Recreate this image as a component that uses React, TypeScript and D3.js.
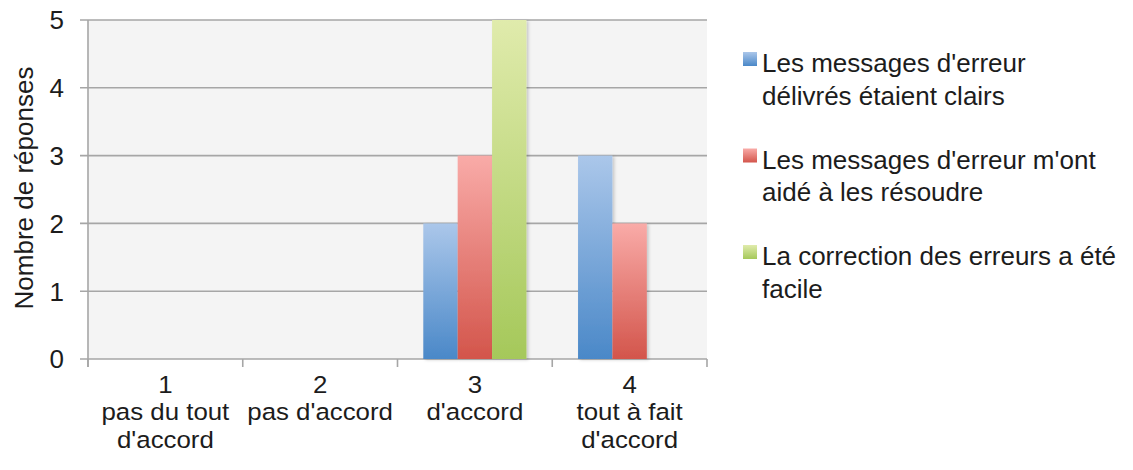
import React from "react";
import * as d3 from "d3";

const categoryNumbers = ["1", "2", "3", "4"];
const categoryLabels = [["pas du tout", "d'accord"], ["pas d'accord"], ["d'accord"], ["tout à fait", "d'accord"]];
const seriesNames = [
  ["Les messages d'erreur", "délivrés étaient clairs"],
  ["Les messages d'erreur m'ont", "aidé à les résoudre"],
  ["La correction des erreurs a été", "facile"],
];
const seriesClairs = [0, 0, 2, 3];
const seriesAide = [0, 0, 3, 2];
const seriesFacile = [0, 0, 5, 0];
const yTicks = [0, 1, 2, 3, 4, 5];
const yTitle = "Nombre de réponses";

const seriesValues = [seriesClairs, seriesAide, seriesFacile];
const gradients = [
  ["#abc7ea", "#4a88c8"],
  ["#f9aba8", "#d3554b"],
  ["#e0ebac", "#a5c85a"],
];

const W = 1133;
const H = 470;
const left = 88;
const right = 707;
const top = 20;
const bottom = 359;
const FONT = "'Liberation Sans', Arial, Helvetica, sans-serif";
const TEXT = "#1c1c1c";
const GRID = "#a6a6a6";

export default function App() {
  const x = d3.scaleBand<string>().domain(categoryNumbers).range([left, right]).paddingInner(0).paddingOuter(0);
  const inner = d3
    .scaleBand<number>()
    .domain([0, 1, 2])
    .range([0, x.bandwidth()])
    .paddingOuter(0.75)
    .paddingInner(0);
  const y = d3.scaleLinear().domain([0, 5]).range([bottom, top]);

  const boundaries = [...categoryNumbers.map((c) => x(c) as number), right];

  return (
    <svg width={W} height={H} style={{ position: "absolute", left: 0, top: 0 }} fontFamily={FONT}>
      <defs>
        {gradients.map((g, i) => (
          <linearGradient key={i} id={`grad${i}`} x1="0" y1="0" x2="0" y2="1">
            <stop offset="0" stopColor={g[0]} />
            <stop offset="1" stopColor={g[1]} />
          </linearGradient>
        ))}
        <filter id="shadow" x="-20%" y="-5%" width="150%" height="115%">
          <feDropShadow dx="2" dy="1" stdDeviation="1.5" floodColor="#000" floodOpacity="0.18" />
        </filter>
      </defs>
      <rect x={0} y={0} width={W} height={H} fill="#ffffff" />
      <rect x={left} y={top} width={right - left} height={bottom - top} fill="#f4f4f4" />
      {yTicks.map((t) => (
        <line key={t} x1={left - 8} x2={right} y1={y(t)} y2={y(t)} stroke={GRID} strokeWidth={1.6} />
      ))}
      <line x1={left} x2={left} y1={top} y2={bottom + 8} stroke={GRID} strokeWidth={1.6} />
      {boundaries.map((b, i) => (
        <line key={i} x1={b} x2={b} y1={bottom} y2={bottom + 8} stroke={GRID} strokeWidth={1.6} />
      ))}
      {categoryNumbers.map((c, ci) =>
        seriesValues.map((vals, si) => {
          const v = vals[ci];
          if (!v) return null;
          const bx = (x(c) as number) + (inner(si) as number);
          return (
            <rect
              key={`${ci}-${si}`}
              x={bx}
              y={y(v)}
              width={inner.bandwidth()}
              height={y(0) - y(v)}
              fill={`url(#grad${si})`}
              filter="url(#shadow)"
            />
          );
        })
      )}
      {yTicks.map((t) => (
        <text key={t} x={64} y={y(t)} dy="0.36em" textAnchor="end" fontSize={26} fill={TEXT}>
          {t}
        </text>
      ))}
      <text
        transform={`translate(33,188) rotate(-90)`}
        textAnchor="middle"
        fontSize={26}
        fill={TEXT}
      >
        {yTitle}
      </text>
      {categoryNumbers.map((c, ci) => {
        const cx = (x(c) as number) + x.bandwidth() / 2;
        const lines = [c, ...categoryLabels[ci]];
        return (
          <text
            key={c}
            transform={`translate(${cx},0) scale(1.1,1)`}
            textAnchor="middle"
            fontSize={23.5}
            fill={TEXT}
          >
            {lines.map((l, li) => (
              <tspan key={li} x={0} y={393 + li * 27.5}>
                {l}
              </tspan>
            ))}
          </text>
        );
      })}
      {seriesNames.map((name, si) => {
        const base = 72 + si * 96.5;
        return (
          <g key={si}>
            <rect x={743} y={base - 20} width={14} height={14} fill={`url(#grad${si})`} />
            <text fontSize={26} fill={TEXT}>
              {name.map((l, li) => (
                <tspan key={li} x={762} y={base + li * 32.5}>
                  {l}
                </tspan>
              ))}
            </text>
          </g>
        );
      })}
    </svg>
  );
}
